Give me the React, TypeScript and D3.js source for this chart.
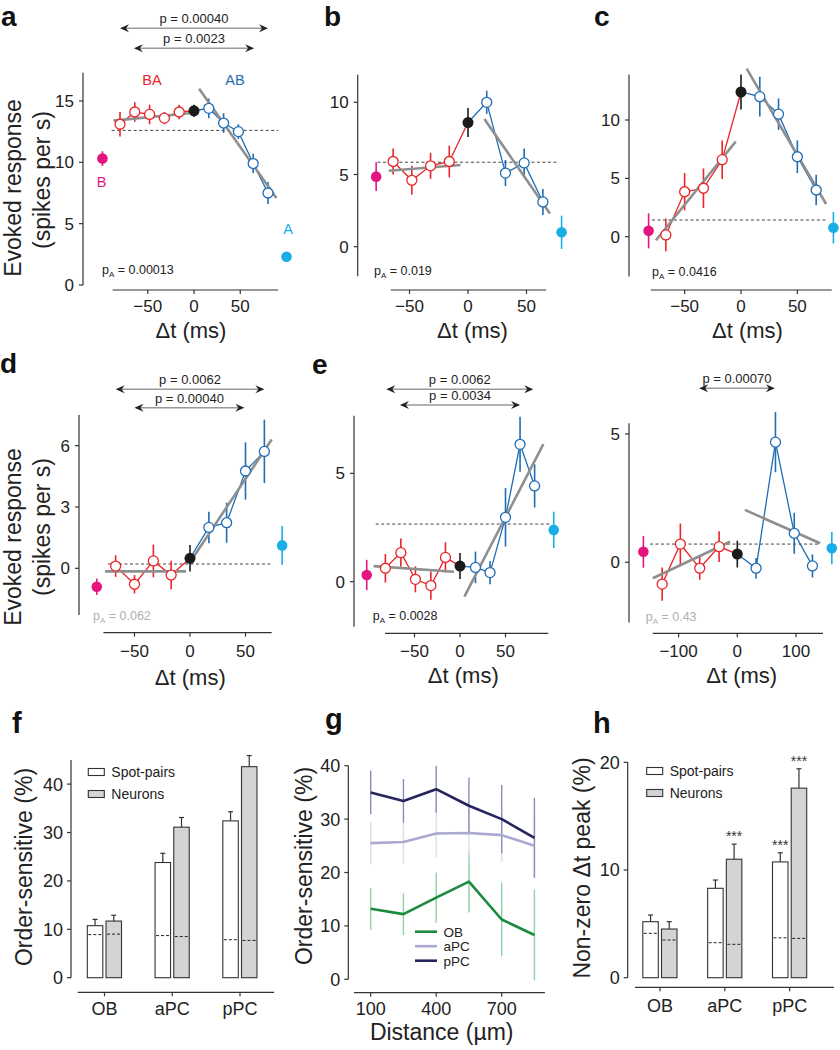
import React from 'react';
import * as d3 from 'd3';

const FONT = '"Liberation Sans", Arial, Helvetica, sans-serif';

// ---------------- Panel a ----------------
const aDt = [-80, -64, -48, -32, -16, 0, 16, 32, 48, 64, 80];
const aMean = [13.1, 14.1, 13.9, 13.6, 14.1, 14.2, 14.4, 13.2, 12.5, 9.9, 7.5];
const aErr = [1.0, 0.8, 0.8, 0.5, 0.6, 0.5, 0.8, 0.8, 0.6, 0.8, 0.9];
const aSingles = [[-99, 10.3, 0.6], [100, 2.3, 0.25]]; // B, A : dt, mean, err
const aFits = [[-87, 13.4, -5, 14.0], [5.5, 16.0, 89, 7.1]];
const aBase = [-89, 91, 12.6];
const aArrows: [number, number, string][] = [[-80, 80, 'p = 0.00040'], [-65, 65, 'p = 0.0023']];
const aYTicks = [0, 5, 10, 15];

// ---------------- Panel b ----------------
const bDt = [-64, -48, -32, -16, 0, 16, 32, 48, 64];
const bMean = [5.9, 4.6, 5.6, 5.9, 8.6, 10.0, 5.1, 5.8, 3.1];
const bErr = [0.9, 1.0, 0.9, 1.1, 1.0, 0.8, 0.9, 1.0, 0.9];
const bSingles = [[-78.5, 4.85, 1.0], [80, 1.0, 1.15]];
const bFits = [[-67.7, 5.26, -6.4, 5.66], [14, 8.85, 70, 2.3]];
const bBase = [-77.4, 77.4, 5.85];
const bYTicks = [0, 5, 10];

// ---------------- Panel c ----------------
const cDt = [-66.7, -50, -33.3, -16.7, 0, 16.7, 33.3, 50, 66.7];
const cMean = [0.15, 3.85, 4.15, 6.6, 12.4, 12.0, 10.5, 6.85, 4.0];
const cErr = [1.4, 1.6, 1.7, 1.65, 1.5, 1.7, 1.35, 1.4, 1.3];
const cSingles = [[-82, 0.5, 1.5], [82, 0.77, 1.35]];
const cFits = [[-75.5, -0.3, -4.7, 8.15], [5, 14.4, 75.5, 2.8]];
const cBase = [-79, 76, 1.43];
const cYTicks = [0, 5, 10];

// ---------------- Panel d ----------------
const dDt = [-67, -50, -33, -17, 0, 17, 33, 50, 67];
const dMean = [0.11, -0.78, 0.36, -0.33, 0.49, 2.0, 2.23, 4.76, 5.72];
const dErr = [0.53, 0.45, 0.8, 0.7, 0.65, 0.77, 0.98, 1.4, 1.55];
const dSingles = [[-84, -0.9, 0.4], [83, 1.12, 0.95]];
const dFits = [[-76.6, -0.15, -3.6, -0.15], [2.4, 0.49, 73.6, 6.3]];
const dBase = [-73.9, 73.6, 0.21];
const dArrows: [number, number, string][] = [[-67, 67, 'p = 0.0062'], [-50, 49, 'p = 0.00040']];
const dYTicks = [0, 3, 6];

// ---------------- Panel e ----------------
const eDt = [-82, -65, -49, -32, -16, 0, 17, 33, 50, 66, 82];
const eMean = [0.62, 1.34, 0.11, -0.18, 1.12, 0.72, 0.66, 0.42, 2.97, 6.34, 4.42];
const eErr = [0.66, 0.65, 0.6, 0.65, 0.7, 0.6, 0.73, 0.54, 1.35, 1.27, 1.0];
const eSingles = [[-102.5, 0.31, 0.7], [103, 2.39, 0.84]];
const eFits = [[-95, 0.72, -6.6, 0.46], [4.8, -0.69, 91.6, 6.35]];
const eBase = [-92.6, 98.9, 2.66];
const eArrows: [number, number, string][] = [[-81, 80.5, 'p = 0.0062'], [-66, 66, 'p = 0.0034']];
const eYTicks = [0, 5];

// ---------------- Unlabelled panel (row 2, right) ----------------
const uDt = [-128, -97, -64, -31, 0, 32, 65, 97, 128];
const uMean = [-0.85, 0.71, -0.23, 0.61, 0.32, -0.23, 4.68, 1.13, -0.14];
const uErr = [0.65, 0.8, 0.45, 0.6, 0.52, 0.4, 1.17, 0.8, 0.45];
const uSingles = [[-160, 0.41, 0.62], [161, 0.55, 0.63]];
const uFits = [[-144, -0.62, -12.5, 0.8], [13, 2.04, 141, 0.74]];
const uBase = [-148.7, 140.9, 0.71];
const uArrows: [number, number, string][] = [[-65, 64, 'p = 0.00070']];
const uYTicks = [0, 5];

const dtTicks = [-50, 0, 50];
const dtTicksWide = [-100, 0, 100];

// ---------------- Panel f ----------------
const regions = ['OB', 'aPC', 'pPC'];
const fSpot = [10.75, 23.8, 32.4];
const fSpotErr = [1.3, 1.9, 1.9];
const fNeur = [11.7, 31.1, 43.6];
const fNeurErr = [1.2, 2.0, 2.3];
const fSpotChance = [8.9, 8.7, 7.85];
const fNeurChance = [9.0, 8.5, 7.7];
const fYTicks = [0, 10, 20, 30, 40];

// ---------------- Panel g ----------------
const gDist = [100, 250, 400, 550, 700, 850];
const gOB = [13.2, 12.2, 15.3, 18.3, 11.2, 8.3];
const gOBErr = [3.9, 3.9, 4.7, 5.8, 6.9, 8.5];
const gAPC = [25.5, 25.7, 27.3, 27.4, 27.0, 25.0];
const gAPCErr = [4.0, 4.0, 4.5, 4.5, 5.0, 6.0];
const gPPC = [35.0, 33.4, 35.6, 32.5, 30.0, 26.5];
const gPPCErr = [4.1, 4.1, 4.4, 5.3, 6.4, 7.5];
const gXTicks = [100, 400, 700];
const gYTicks = [0, 10, 20, 30, 40];

// ---------------- Panel h ----------------
const hSpot = [5.2, 8.3, 10.75];
const hSpotErr = [0.62, 0.77, 0.85];
const hNeur = [4.52, 11.0, 17.6];
const hNeurErr = [0.68, 1.4, 1.8];
const hSpotChance = [4.12, 3.25, 3.7];
const hNeurChance = [3.5, 3.1, 3.65];
const hSpotStars = [false, false, true];
const hNeurStars = [false, true, true];
const hYTicks = [0, 10, 20];

const COL = {
  red: '#e8252b',
  blue: '#1f6db5',
  black: '#1b1b1b',
  pink: '#e5157f',
  cyan: '#1aaee6',
  fit: '#8f8f8f',
  axis: '#333333',
  barGray: '#d4d4d4',
  ob: '#1b8a3c',
  apc: '#a9a9d4',
  ppc: '#25255c',
};

const fmt = d3.format('');

// ---------------- Scatter panel ----------------
type ScatterData = {
  dt: number[]; mean: number[]; err: number[]; singles: number[][];
  fits: number[][]; base: number[]; arrows: [number, number, string][];
  yTicks: number[]; xTicks: number[]; xExt: [number, number]; yExt: [number, number];
  pA: string; pAGray?: boolean;
};
type ScatterLayout = {
  x0: number; kx: number; y0: number; ky: number; yAxisX: number; xAxisY: number; tickDy: number;
  letter?: string; letterX?: number; letterY?: number;
  xlabX: number; xlabY: number; pAX: number; pAY: number; arrowY?: number[];
  ylab?: { y1: number; y2: number };
  extra?: { text: string; x: number; y: number; color: string }[];
};

function ArrowHead({ x, y, dir }: { x: number; y: number; dir: number }) {
  const p = `M${x},${y} L${x + dir * 9},${y - 4} L${x + dir * 6},${y} L${x + dir * 9},${y + 4} Z`;
  return <path d={p} fill="#222" />;
}

function Scatter({ d, L }: { d: ScatterData; L: ScatterLayout }) {
  const x = d3.scaleLinear().domain([0, 100]).range([L.x0, L.x0 + 100 * L.kx]);
  const y = d3.scaleLinear().domain([0, 10]).range([L.y0, L.y0 - 10 * L.ky]);
  const idx = d3.range(d.dt.length);
  const neg = idx.filter(i => d.dt[i] <= 0);
  const pos = idx.filter(i => d.dt[i] >= 0);
  const line = d3.line<number>().x(i => x(d.dt[i])).y(i => y(d.mean[i]));
  const colorOf = (i: number) => (d.dt[i] < 0 ? COL.red : d.dt[i] > 0 ? COL.blue : COL.black);
  const singleCols = [COL.pink, COL.cyan];
  return (
    <g>
      {L.letter && (
        <text x={L.letterX} y={L.letterY} fontSize={28} fontWeight={700} fill="#111">{L.letter}</text>
      )}
      {/* arrows */}
      {d.arrows.map((a, k) => {
        const ay = (L.arrowY || [])[k];
        const x1 = x(a[0]), x2 = x(a[1]);
        return (
          <g key={'ar' + k}>
            <line x1={x1 + 4} x2={x2 - 4} y1={ay} y2={ay} stroke="#9a9a9a" strokeWidth={1.4} />
            <ArrowHead x={x1} y={ay} dir={1} />
            <ArrowHead x={x2} y={ay} dir={-1} />
            <text x={(x1 + x2) / 2} y={ay - 5} fontSize={13} textAnchor="middle" fill="#222">{a[2]}</text>
          </g>
        );
      })}
      {/* axes */}
      <line x1={L.yAxisX} x2={L.yAxisX} y1={y(d.yExt[0])} y2={y(d.yExt[1])} stroke={COL.axis} strokeWidth={1.2} />
      {d.yTicks.map(t => (
        <g key={'yt' + t}>
          <line x1={L.yAxisX - 4} x2={L.yAxisX} y1={y(t)} y2={y(t)} stroke={COL.axis} strokeWidth={1.2} />
          <text x={L.yAxisX - 9} y={y(t)} dy="0.36em" fontSize={17} textAnchor="end" fill="#222">{fmt(t)}</text>
        </g>
      ))}
      <line x1={x(d.xExt[0])} x2={x(d.xExt[1])} y1={L.xAxisY} y2={L.xAxisY} stroke={COL.axis} strokeWidth={1.2} />
      {d.xTicks.map(t => (
        <g key={'xt' + t}>
          <line x1={x(t)} x2={x(t)} y1={L.xAxisY} y2={L.xAxisY + 4} stroke={COL.axis} strokeWidth={1.2} />
          <text x={x(t)} y={L.xAxisY + L.tickDy} fontSize={17} textAnchor="middle" fill="#222">{fmt(t)}</text>
        </g>
      ))}
      <text x={L.xlabX} y={L.xlabY} fontSize={22} textAnchor="middle" fill="#222">Δt (ms)</text>
      {L.ylab && (
        <g>
          <text transform={`translate(21,${L.ylab.y1}) rotate(-90)`} fontSize={23} textAnchor="middle" fill="#222">Evoked response</text>
          <text transform={`translate(50,${L.ylab.y2}) rotate(-90)`} fontSize={23} textAnchor="middle" fill="#222">(spikes per s)</text>
        </g>
      )}
      {/* p_A */}
      <text x={L.pAX} y={L.pAY} fontSize={12.5} fill={d.pAGray ? '#b0b0b0' : '#222'}>
        p<tspan fontSize={8} dy={3}>A</tspan><tspan dy={-3}>{' = ' + d.pA}</tspan>
      </text>
      {/* baseline */}
      <line x1={x(d.base[0])} x2={x(d.base[1])} y1={y(d.base[2])} y2={y(d.base[2])} stroke="#444" strokeWidth={1} strokeDasharray="3,2.5" />
      {/* error bars */}
      {idx.map(i => (
        <line key={'e' + i} x1={x(d.dt[i])} x2={x(d.dt[i])} y1={y(d.mean[i] - d.err[i])} y2={y(d.mean[i] + d.err[i])} stroke={colorOf(i)} strokeWidth={1.6} />
      ))}
      {d.singles.map((s, k) => (
        <line key={'se' + k} x1={x(s[0])} x2={x(s[0])} y1={y(s[1] - s[2])} y2={y(s[1] + s[2])} stroke={singleCols[k]} strokeWidth={1.6} />
      ))}
      {/* connecting lines */}
      <path d={line(neg) || ''} fill="none" stroke={COL.red} strokeWidth={1.3} />
      <path d={line(pos) || ''} fill="none" stroke={COL.blue} strokeWidth={1.3} />
      {/* fits */}
      {d.fits.map((f, k) => (
        <line key={'f' + k} x1={x(f[0])} y1={y(f[1])} x2={x(f[2])} y2={y(f[3])} stroke={COL.fit} strokeWidth={2.6} />
      ))}
      {/* circles */}
      {idx.map(i => (
        d.dt[i] === 0 ? (
          <circle key={'c' + i} cx={x(d.dt[i])} cy={y(d.mean[i])} r={5.5} fill={COL.black} />
        ) : (
          <circle key={'c' + i} cx={x(d.dt[i])} cy={y(d.mean[i])} r={5} fill="#fff" stroke={colorOf(i)} strokeWidth={1.3} />
        )
      ))}
      {d.singles.map((s, k) => (
        <circle key={'s' + k} cx={x(s[0])} cy={y(s[1])} r={5.3} fill={singleCols[k]} />
      ))}
      {(L.extra || []).map((e, k) => (
        <text key={'x' + k} x={e.x} y={e.y} fontSize={14.5} textAnchor="middle" fill={e.color}>{e.text}</text>
      ))}
    </g>
  );
}

// ---------------- Bar panel ----------------
type BarData = {
  spot: number[]; spotErr: number[]; neur: number[]; neurErr: number[];
  spotChance: number[]; neurChance: number[]; yTicks: number[]; yMax: number;
  spotStars?: boolean[]; neurStars?: boolean[]; ylabel: string;
};
type BarLayout = {
  yAxisX: number; y0: number; ky: number; xAxisY: number; xAxis: [number, number];
  catRange: [number, number]; tickY: number; legX: number; legY: number; legY2: number;
  ylabX: number; ylabY: number; letter: string; letterX: number; letterY: number;
};

function Bars({ d, L }: { d: BarData; L: BarLayout }) {
  const y = d3.scaleLinear().domain([0, 10]).range([L.y0, L.y0 - 10 * L.ky]);
  const cx = d3.scalePoint<string>().domain(regions).range(L.catRange);
  const bw = 15.5;
  const bars = (vals: number[], errs: number[], chance: number[], fill: string, off: number, stars?: boolean[], tag?: string) =>
    regions.map((r, i) => {
      const left = (cx(r) as number) + off;
      const mid = left + bw / 2;
      const top = y(vals[i]);
      const etop = y(vals[i] + errs[i]);
      return (
        <g key={tag + r}>
          <line x1={mid} x2={mid} y1={top} y2={etop} stroke="#333" strokeWidth={1.2} />
          <line x1={mid - 2.5} x2={mid + 2.5} y1={etop} y2={etop} stroke="#333" strokeWidth={1.2} />
          <rect x={left} y={top} width={bw} height={y(0) - top} fill={fill} stroke="#333" strokeWidth={1.1} />
          <line x1={left + 1} x2={left + bw - 1} y1={y(chance[i])} y2={y(chance[i])} stroke="#222" strokeWidth={1} strokeDasharray="3,2" />
          {stars && stars[i] && (
            <text x={mid} y={etop - 3} fontSize={14} textAnchor="middle" fill="#333">***</text>
          )}
        </g>
      );
    });
  return (
    <g>
      <text x={L.letterX} y={L.letterY} fontSize={29} fontWeight={700} fill="#111">{L.letter}</text>
      <line x1={L.yAxisX} x2={L.yAxisX} y1={y(0)} y2={y(d.yMax)} stroke={COL.axis} strokeWidth={1.2} />
      {d.yTicks.map(t => (
        <g key={'yt' + t}>
          <line x1={L.yAxisX - 4} x2={L.yAxisX} y1={y(t)} y2={y(t)} stroke={COL.axis} strokeWidth={1.2} />
          <text x={L.yAxisX - 8} y={y(t)} dy="0.36em" fontSize={18} textAnchor="end" fill="#222">{fmt(t)}</text>
        </g>
      ))}
      <line x1={L.xAxis[0]} x2={L.xAxis[1]} y1={L.xAxisY} y2={L.xAxisY} stroke={COL.axis} strokeWidth={1.2} />
      {regions.map(r => (
        <g key={'xt' + r}>
          <line x1={cx(r)} x2={cx(r)} y1={L.xAxisY} y2={L.xAxisY + 4} stroke={COL.axis} strokeWidth={1.2} />
          <text x={cx(r)} y={L.tickY} fontSize={18} textAnchor="middle" fill="#222">{r}</text>
        </g>
      ))}
      {bars(d.spot, d.spotErr, d.spotChance, '#fff', -bw - 1.7, d.spotStars, 's')}
      {bars(d.neur, d.neurErr, d.neurChance, COL.barGray, 1.5, d.neurStars, 'n')}
      <rect x={L.legX} y={L.legY - 3.5} width={16} height={7} fill="#fff" stroke="#333" strokeWidth={1.1} />
      <text x={L.legX + 23} y={L.legY} dy="0.36em" fontSize={14} fill="#222">Spot-pairs</text>
      <rect x={L.legX} y={L.legY2 - 3.5} width={16} height={7} fill={COL.barGray} stroke="#333" strokeWidth={1.1} />
      <text x={L.legX + 23} y={L.legY2} dy="0.36em" fontSize={14} fill="#222">Neurons</text>
      <text transform={`translate(${L.ylabX},${L.ylabY}) rotate(-90)`} fontSize={23} textAnchor="middle" fill="#222">{d.ylabel}</text>
    </g>
  );
}

// ---------------- Panel g ----------------
function Distance() {
  const x = d3.scaleLinear().domain([100, 400]).range([370.7, 370.7 + 300 * 0.2183]);
  const y = d3.scaleLinear().domain([0, 40]).range([979.3, 979.3 - 40 * 5.34]);
  const series = [
    { name: 'OB', v: gOB, e: gOBErr, c: COL.ob, ec: '#8ed3a3' },
    { name: 'aPC', v: gAPC, e: gAPCErr, c: COL.apc, ec: '#dcdcee' },
    { name: 'pPC', v: gPPC, e: gPPCErr, c: COL.ppc, ec: '#8b8bb3' },
  ];
  const line = (v: number[]) => d3.line<number>().x(i => x(gDist[i])).y(i => y(v[i]))(d3.range(gDist.length)) || '';
  const legY = [931.7, 946.2, 960.7];
  return (
    <g>
      <text x={325} y={729} fontSize={29} fontWeight={700} fill="#111">g</text>
      {series.map(s => gDist.map((dd, i) => (
        <line key={s.name + 'e' + i} x1={x(dd)} x2={x(dd)} y1={y(s.v[i] - s.e[i])} y2={y(s.v[i] + s.e[i])} stroke={s.ec} strokeWidth={1.4} />
      )))}
      {series.map(s => (
        <path key={s.name} d={line(s.v)} fill="none" stroke={s.c} strokeWidth={2.6} strokeLinejoin="round" />
      ))}
      <line x1={348.3} x2={348.3} y1={y(0)} y2={y(40)} stroke={COL.axis} strokeWidth={1.2} />
      {gYTicks.map(t => (
        <g key={'gy' + t}>
          <line x1={344.3} x2={348.3} y1={y(t)} y2={y(t)} stroke={COL.axis} strokeWidth={1.2} />
          <text x={340.3} y={y(t)} dy="0.36em" fontSize={18} textAnchor="end" fill="#222">{fmt(t)}</text>
        </g>
      ))}
      <line x1={x(23.5)} x2={x(898)} y1={992.7} y2={992.7} stroke={COL.axis} strokeWidth={1.2} />
      {gXTicks.map(t => (
        <g key={'gx' + t}>
          <line x1={x(t)} x2={x(t)} y1={992.7} y2={996.7} stroke={COL.axis} strokeWidth={1.2} />
          <text x={x(t)} y={1015} fontSize={18} textAnchor="middle" fill="#222">{fmt(t)}</text>
        </g>
      ))}
      <text x={441.7} y={1040} fontSize={23} textAnchor="middle" fill="#222">Distance (µm)</text>
      <text transform="translate(312,866) rotate(-90)" fontSize={23} textAnchor="middle" fill="#222">Order-sensitive (%)</text>
      {series.map((s, k) => (
        <g key={'lg' + s.name}>
          <line x1={415} x2={437} y1={legY[k]} y2={legY[k]} stroke={s.c} strokeWidth={2.6} />
          <text x={443.5} y={legY[k]} dy="0.36em" fontSize={13.5} fill="#222">{s.name}</text>
        </g>
      ))}
    </g>
  );
}

export default function App() {
  const panels: { d: ScatterData; L: ScatterLayout }[] = [
    {
      d: { dt: aDt, mean: aMean, err: aErr, singles: aSingles, fits: aFits, base: aBase, arrows: aArrows, yTicks: aYTicks, xTicks: dtTicks, xExt: [-88, 91], yExt: [0, 17.3], pA: '0.00013' },
      L: { x0: 194, kx: 0.925, y0: 285, ky: 12.27, yAxisX: 83, xAxisY: 290, tickDy: 22, letter: 'a', letterX: 1, letterY: 26, xlabX: 191, xlabY: 338, pAX: 102, pAY: 274, arrowY: [28.3, 48.3], ylab: { y1: 188, y2: 180 },
        extra: [
          { text: 'BA', x: 152, y: 85, color: COL.red },
          { text: 'AB', x: 235, y: 85, color: COL.blue },
          { text: 'B', x: 101.7, y: 187, color: COL.pink },
          { text: 'A', x: 288, y: 234, color: COL.cyan },
        ] },
    },
    {
      d: { dt: bDt, mean: bMean, err: bErr, singles: bSingles, fits: bFits, base: bBase, arrows: [], yTicks: bYTicks, xTicks: dtTicks, xExt: [-66, 66.8], yExt: [-2.05, 11.9], pA: '0.019' },
      L: { x0: 468, kx: 1.17, y0: 246.7, ky: 14.44, yAxisX: 357.7, xAxisY: 290, tickDy: 22, letter: 'b', letterX: 324, letterY: 26, xlabX: 472.5, xlabY: 338, pAX: 374, pAY: 275 },
    },
    {
      d: { dt: cDt, mean: cMean, err: cErr, singles: cSingles, fits: cFits, base: cBase, arrows: [], yTicks: cYTicks, xTicks: dtTicks, xExt: [-80, 80.5], yExt: [-3.4, 13.9], pA: '0.0416' },
      L: { x0: 741, kx: 1.127, y0: 236.7, ky: 11.67, yAxisX: 629, xAxisY: 290, tickDy: 22, letter: 'c', letterX: 594, letterY: 26, xlabX: 747.5, xlabY: 338, pAX: 652, pAY: 276 },
    },
    {
      d: { dt: dDt, mean: dMean, err: dErr, singles: dSingles, fits: dFits, base: dBase, arrows: dArrows, yTicks: dYTicks, xTicks: dtTicks, xExt: [-78, 73.6], yExt: [-2.28, 7.5], pA: '0.062', pAGray: true },
      L: { x0: 190, kx: 1.11, y0: 568.3, ky: 20.44, yAxisX: 79, xAxisY: 632.7, tickDy: 24, letter: 'd', letterX: 0, letterY: 373, xlabX: 190.3, xlabY: 685, pAX: 93, pAY: 620, arrowY: [389.3, 407.7], ylab: { y1: 537, y2: 527 } },
    },
    {
      d: { dt: eDt, mean: eMean, err: eErr, singles: eSingles, fits: eFits, base: eBase, arrows: eArrows, yTicks: eYTicks, xTicks: dtTicks, xExt: [-82.4, 97], yExt: [-2.08, 7.66], pA: '0.0028' },
      L: { x0: 460, kx: 0.91, y0: 581.7, ky: 21.67, yAxisX: 354, xAxisY: 633.3, tickDy: 24, letter: 'e', letterX: 312, letterY: 374, xlabX: 463.3, xlabY: 683, pAX: 372.7, pAY: 620, arrowY: [389.3, 405] },
    },
    {
      d: { dt: uDt, mean: uMean, err: uErr, singles: uSingles, fits: uFits, base: uBase, arrows: uArrows, yTicks: uYTicks, xTicks: dtTicksWide, xExt: [-144, 146], yExt: [-2.35, 5.42], pA: '0.43', pAGray: true },
      L: { x0: 737.3, kx: 0.587, y0: 562.3, ky: 25.67, yAxisX: 629, xAxisY: 633.3, tickDy: 24, xlabX: 741.7, xlabY: 683, pAX: 645.7, pAY: 621, arrowY: [388.3] },
    },
  ];

  const fData: BarData = { spot: fSpot, spotErr: fSpotErr, neur: fNeur, neurErr: fNeurErr, spotChance: fSpotChance, neurChance: fNeurChance, yTicks: fYTicks, yMax: 45, ylabel: 'Order-sensitive (%)' };
  const fLayout: BarLayout = { yAxisX: 71, y0: 977.7, ky: 4.84, xAxisY: 992.3, xAxis: [77.7, 274], catRange: [104.5, 240], tickY: 1015, legX: 88.3, legY: 772, legY2: 794, ylabX: 32, ylabY: 867, letter: 'f', letterX: 12, letterY: 733 };
  const hData: BarData = { spot: hSpot, spotErr: hSpotErr, neur: hNeur, neurErr: hNeurErr, spotChance: hSpotChance, neurChance: hNeurChance, yTicks: hYTicks, yMax: 20, spotStars: hSpotStars, neurStars: hNeurStars, ylabel: 'Non-zero Δt peak (%)' };
  const hLayout: BarLayout = { yAxisX: 627.7, y0: 977.7, ky: 10.77, xAxisY: 987.3, xAxis: [635, 834], catRange: [660, 789.7], tickY: 1011.7, legX: 646.7, legY: 771, legY2: 793, ylabX: 590, ylabY: 868, letter: 'h', letterX: 593, letterY: 733 };

  return (
    <svg width={840} height={1050} viewBox="0 0 840 1050" style={{ position: 'absolute', left: 0, top: 0, background: '#fff' }} fontFamily={FONT}>
      <rect x={0} y={0} width={840} height={1050} fill="#fff" />
      {panels.map((p, i) => <Scatter key={i} d={p.d} L={p.L} />)}
      <Bars d={fData} L={fLayout} />
      <Distance />
      <Bars d={hData} L={hLayout} />
    </svg>
  );
}
